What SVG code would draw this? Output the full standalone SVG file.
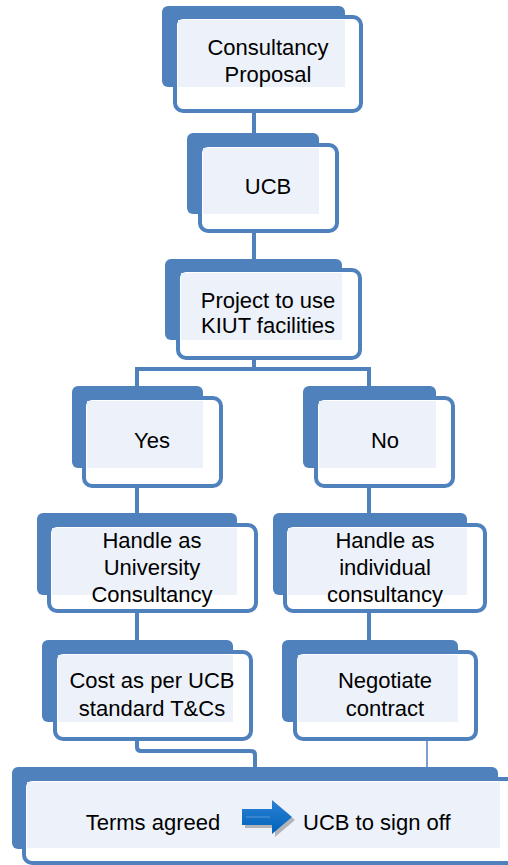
<svg xmlns="http://www.w3.org/2000/svg" width="508" height="865" viewBox="0 0 508 865">
  <defs>
    <style>
      .dark { fill: #4F81BD; }
      .box { fill: #FFFFFF; stroke: #4F81BD; stroke-width: 4; }
      .light { fill: #EDF1F9; }
      .lbl { font-family: "Liberation Sans", Arial, sans-serif; font-size: 22px; fill: #000000; text-anchor: middle; }
      .conn { fill: none; stroke: #4F81BD; stroke-width: 4; }
      .thin { fill: none; stroke: #4F81BD; stroke-width: 1.5; }
    </style>
    <linearGradient id="arrowGrad" x1="0" y1="0" x2="0" y2="1">
      <stop offset="0" stop-color="#2A82D6"/>
      <stop offset="1" stop-color="#0062B8"/>
    </linearGradient>
  </defs>
  <rect x="0" y="0" width="508" height="865" fill="#FFFFFF"/>

  <g id="connectors">
    <path class="conn" d="M254,111 V135"/>
    <path class="conn" d="M254,231 V261"/>
    <path class="conn" d="M254,358 V369"/>
    <path class="conn" d="M137,398 V369 H369 V398"/>
    <path class="conn" d="M137,486 V515"/>
    <path class="conn" d="M369,486 V515"/>
    <path class="conn" d="M137,611 V642"/>
    <path class="conn" d="M369,611 V642"/>
    <path class="conn" d="M137,737 V747 Q137,751 141,751 H251 Q255,751 255,755 V769"/>
    <path class="thin" d="M427,739 V769"/>
  </g>

  <g id="node-consultancy-proposal">
    <rect class="dark" x="162" y="6" width="183" height="81" rx="6"/>
    <rect class="box" x="175" y="17" width="186" height="94" rx="8"/>
    <rect class="light" x="178" y="20" width="167" height="67"/>
    <text class="lbl" x="268" y="55">Consultancy</text>
    <text class="lbl" x="268" y="82">Proposal</text>
  </g>

  <g id="node-ucb">
    <rect class="dark" x="187" y="133" width="132" height="81" rx="6"/>
    <rect class="box" x="200" y="145" width="137" height="86" rx="8"/>
    <rect class="light" x="203" y="148" width="116" height="66"/>
    <text class="lbl" x="268" y="194">UCB</text>
  </g>

  <g id="node-project">
    <rect class="dark" x="165" y="259" width="177" height="81" rx="6"/>
    <rect class="box" x="178" y="270" width="182" height="88" rx="8"/>
    <rect class="light" x="181" y="273" width="161" height="67"/>
    <text class="lbl" x="268" y="308">Project to use</text>
    <text class="lbl" x="268" y="333">KIUT facilities</text>
  </g>

  <g id="node-yes">
    <rect class="dark" x="72" y="386" width="131" height="82" rx="6"/>
    <rect class="box" x="84" y="398" width="137" height="88" rx="8"/>
    <rect class="light" x="87" y="401" width="116" height="67"/>
    <text class="lbl" x="152" y="448">Yes</text>
  </g>

  <g id="node-no">
    <rect class="dark" x="303" y="386" width="133" height="82" rx="6"/>
    <rect class="box" x="316" y="398" width="137" height="88" rx="8"/>
    <rect class="light" x="319" y="401" width="117" height="67"/>
    <text class="lbl" x="385" y="448">No</text>
  </g>

  <g id="node-university">
    <rect class="dark" x="37" y="513" width="200" height="82" rx="6"/>
    <rect class="box" x="49" y="525" width="207" height="86" rx="8"/>
    <rect class="light" x="52" y="528" width="185" height="67"/>
    <text class="lbl" x="152" y="548">Handle as</text>
    <text class="lbl" x="152" y="575">University</text>
    <text class="lbl" x="152" y="602">Consultancy</text>
  </g>

  <g id="node-individual">
    <rect class="dark" x="273" y="513" width="194" height="82" rx="6"/>
    <rect class="box" x="285" y="525" width="200" height="86" rx="8"/>
    <rect class="light" x="288" y="528" width="179" height="67"/>
    <text class="lbl" x="385" y="548">Handle as</text>
    <text class="lbl" x="385" y="575">individual</text>
    <text class="lbl" x="385" y="602">consultancy</text>
  </g>

  <g id="node-cost">
    <rect class="dark" x="42" y="640" width="191" height="82" rx="6"/>
    <rect class="box" x="55" y="652" width="196" height="87" rx="8"/>
    <rect class="light" x="58" y="655" width="175" height="67"/>
    <text class="lbl" x="152" y="688">Cost as per UCB</text>
    <text class="lbl" x="152" y="716">standard T&amp;Cs</text>
  </g>

  <g id="node-negotiate">
    <rect class="dark" x="282" y="640" width="176" height="82" rx="6"/>
    <rect class="box" x="295" y="652" width="181" height="87" rx="8"/>
    <rect class="light" x="298" y="655" width="160" height="67"/>
    <text class="lbl" x="385" y="688">Negotiate</text>
    <text class="lbl" x="385" y="716">contract</text>
  </g>

  <g id="node-terms">
    <rect class="dark" x="12" y="767" width="486" height="82" rx="6"/>
    <rect class="box" x="24" y="779" width="500" height="84" rx="8"/>
    <rect class="light" x="27" y="782" width="473" height="66"/>
    <text class="lbl" x="153" y="830">Terms agreed</text>
    <text class="lbl" x="303" y="830" style="text-anchor:start">UCB to sign off</text>
    <polygon points="245,812 275,812 275,803 295,820 275,837 275,828 245,828" fill="#8C8C8C" opacity="0.6"/>
    <polygon points="242,809 272,809 272,800 292,817 272,834 272,825 242,825" fill="url(#arrowGrad)"/>
    <line x1="246" y1="817" x2="270" y2="817" stroke="#5A96D6" stroke-width="1"/>
  </g>
</svg>
